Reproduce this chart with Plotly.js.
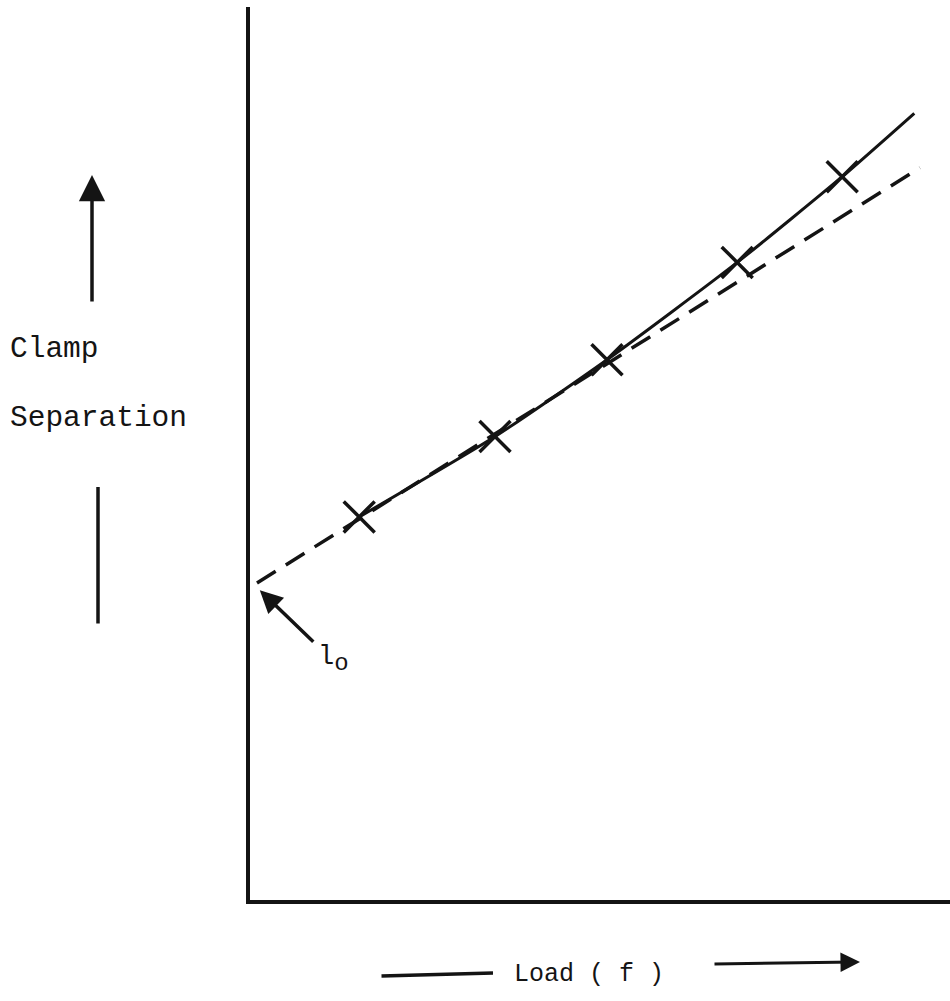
<!DOCTYPE html>
<html>
<head>
<meta charset="utf-8">
<script src="https://cdn.plot.ly/plotly-3.0.1.min.js"></script>
<style>html,body{margin:0;padding:0;background:#fff;}#chart{width:950px;height:1001px;}</style>
</head>
<body>
<div id="chart"></div>
<script>
// Measured points (load, clamp separation) in arbitrary units
const loadPoints = [1.56, 3.5, 5.1, 6.96, 8.46];
const separationPoints = [4.29, 5.19, 6.05, 7.14, 8.1];
// Curve drawn through the points, extended beyond the last one
const curveLoad = [1.56, 3.5, 5.1, 6.96, 8.46, 9.49];
const curveSeparation = [4.29, 5.19, 6.05, 7.14, 8.1, 8.81];
// Straight (initial slope) extrapolation, dashed
const tangentLoad = [0.1, 9.57];
const tangentSeparation = [3.55, 8.2];
// l0 intercept label position
const interceptLoad = [0.14];
const interceptSeparation = [3.47];

const ink = '#141414';
const mono = 'Liberation Mono, DejaVu Sans Mono, monospace';

const traces = [
  {x: tangentLoad, y: tangentSeparation, mode: 'lines', type: 'scatter',
   line: {color: ink, width: 3.5, dash: '22px,12px'}, hoverinfo: 'skip'},
  {x: curveLoad, y: curveSeparation, mode: 'lines', type: 'scatter',
   line: {color: ink, width: 3, shape: 'spline', smoothing: 0.6}, hoverinfo: 'skip'},
  {x: loadPoints, y: separationPoints, mode: 'markers', type: 'scatter',
   marker: {symbol: 'x-thin', size: 31, color: ink, line: {color: ink, width: 3.5}}, hoverinfo: 'skip'}
];

const toPX = px => (px - 250) / 700;
const toPY = py => (900 - py) / 893;

const annotations = [
  // l0 arrow and label
  {x: interceptLoad[0], y: interceptSeparation[0], xref: 'x', yref: 'y', text: '', showarrow: true,
   ax: 55, ay: 53, arrowhead: 2, arrowsize: 1.3, arrowwidth: 3.5, arrowcolor: ink},
  {x: toPX(316), y: toPY(640), xref: 'paper', yref: 'paper',
   text: 'l<sub><span style="font-size:24px">o</span></sub>', showarrow: false,
   xanchor: 'left', yanchor: 'top', font: {family: mono, size: 27, color: ink}},
  // Y label
  {x: toPX(8), y: toPY(349), xref: 'paper', yref: 'paper', text: 'Clamp', showarrow: false,
   xanchor: 'left', yanchor: 'middle', font: {family: mono, size: 29.5, color: ink}},
  {x: toPX(8), y: toPY(418), xref: 'paper', yref: 'paper', text: 'Separation', showarrow: false,
   xanchor: 'left', yanchor: 'middle', font: {family: mono, size: 29.5, color: ink}},
  {x: toPX(92), y: toPY(175), xref: 'paper', yref: 'paper', text: '', showarrow: true,
   ax: 0, ay: 128, arrowhead: 2, arrowsize: 1.5, arrowwidth: 3.5, arrowcolor: ink},
  {x: toPX(98), y: toPY(487), xref: 'paper', yref: 'paper', text: '', showarrow: true,
   ax: 0, ay: 138, arrowhead: 0, arrowwidth: 3.5, arrowcolor: ink},
  // X label
  {x: toPX(512), y: toPY(974), xref: 'paper', yref: 'paper', text: 'Load ( f )', showarrow: false,
   xanchor: 'left', yanchor: 'middle', font: {family: mono, size: 25, color: ink}},
  {x: toPX(493), y: toPY(973), xref: 'paper', yref: 'paper', text: '', showarrow: true,
   ax: -113, ay: 3, arrowhead: 0, arrowwidth: 3.5, arrowcolor: ink},
  {x: toPX(860), y: toPY(962), xref: 'paper', yref: 'paper', text: '', showarrow: true,
   ax: -147, ay: 2, arrowhead: 2, arrowsize: 1.3, arrowwidth: 3, arrowcolor: ink}
];

const axisCommon = {range: [0, 10], showgrid: false, zeroline: false, showticklabels: false,
  ticks: '', showline: true, linecolor: ink, linewidth: 4, fixedrange: true};

const layout = {
  width: 950, height: 1001,
  margin: {l: 250, r: 0, t: 7, b: 101, pad: 0},
  paper_bgcolor: '#ffffff', plot_bgcolor: '#ffffff',
  showlegend: false,
  xaxis: Object.assign({}, axisCommon),
  yaxis: Object.assign({}, axisCommon),
  annotations: annotations
};

Plotly.newPlot('chart', traces, layout, {staticPlot: true, displayModeBar: false});
</script>
</body>
</html>
